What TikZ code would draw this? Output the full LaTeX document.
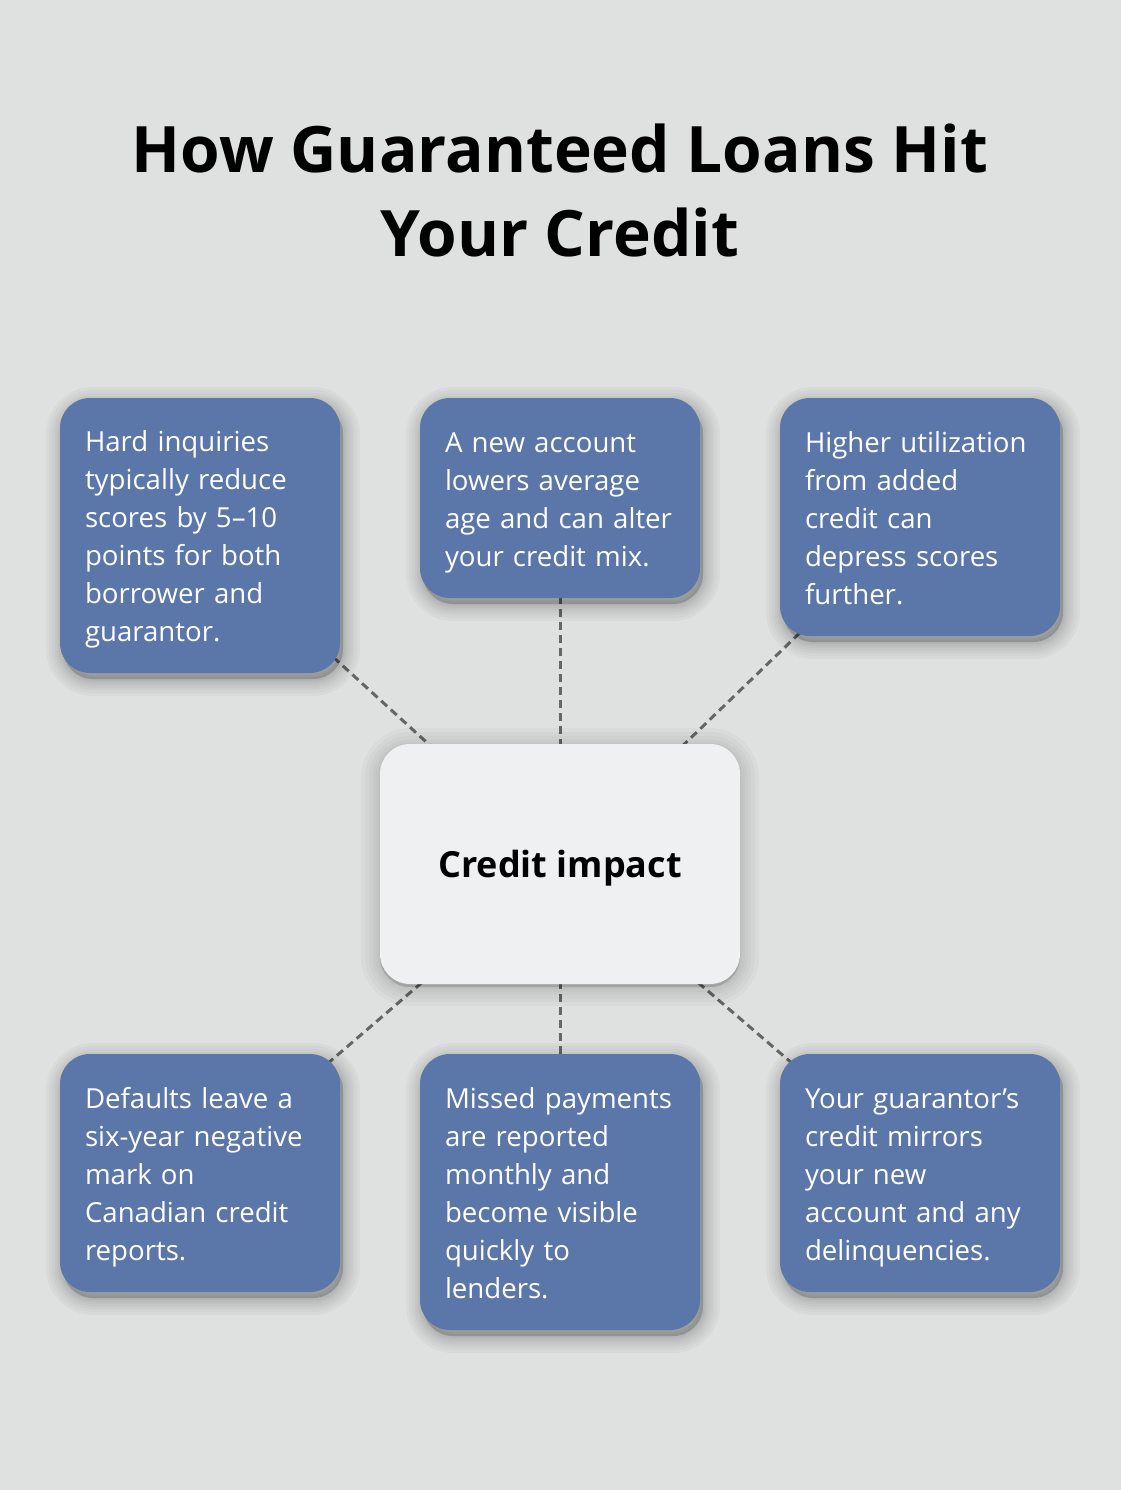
\documentclass[tikz,border=0pt]{standalone}
\usepackage{fontspec}
\setmainfont{Open Sans}
\pgfdeclarelayer{bgzero}
\pgfdeclarelayer{lines}
\pgfsetlayers{bgzero,lines,main}
\definecolor{bgc}{HTML}{DFE1E0}
\definecolor{boxc}{HTML}{5B76A8}
\definecolor{centc}{HTML}{EFF0F2}
\definecolor{linec}{HTML}{666666}
\newcommand\topstrutx{\rule{0pt}{31pt}}
\newcommand\botstrutx{\rule[-9pt]{0pt}{9pt}}
\tikzset{
  shb/.style={preaction={draw=black, fill=black, opacity=0.028, line width=#1,
    transform canvas={xshift=3pt, yshift=-6pt}}},
  shc/.style={preaction={draw=black, fill=black, opacity=0.025, line width=#1,
    transform canvas={yshift=-3pt}}},
  outerbox/.style={shb=34pt, shb=28pt, shb=22pt, shb=17pt, shb=12pt, shb=8pt, shb=4pt,
    fill=boxc, rounded corners=30pt, text=white, align=left,
    inner sep=0pt, font=\fontsize{27.6}{38}\selectfont, minimum width=280pt, text width=230pt},
  centbox/.style={shc=38pt, shc=30pt, shc=22pt, shc=15pt, shc=9pt, shc=4pt,
    fill=centc, rounded corners=30pt, minimum width=360pt, minimum height=240pt,
    inner sep=0pt, text depth=0pt, font=\bfseries\fontsize{36}{42}\selectfont},
  conn/.style={draw=linec, line width=3pt, dash pattern=on 8pt off 5pt},
}
\begin{document}
\begin{tikzpicture}[x=1pt,y=-1pt]
\useasboundingbox (0,0) rectangle (1120,1490);
\begin{pgfonlayer}{bgzero}
\fill[bgc] (-20,-20) rectangle (1140,1510);
\end{pgfonlayer}
\node[font=\bfseries\fontsize{64}{84}\selectfont, align=center] (title) at (560,190)
  {How Guaranteed Loans Hit\\Your Credit};
\node[centbox] (c) at (560,864) {Credit impact};
% top row
\node[outerbox, minimum height=275pt] (tl) at (200,535.5)
  {\topstrutx Hard inquiries\\typically reduce\\scores by 5–10\\points for both\\borrower and\\guarantor.\botstrutx};
\node[outerbox, minimum height=200pt] (tc) at (560,498)
  {\topstrutx A new account\\lowers average\\age and can alter\\your credit mix.\botstrutx};
\node[outerbox, minimum height=238pt] (tr) at (920,517)
  {\topstrutx Higher utilization\\from added\\credit can\\depress scores\\further.\botstrutx};
% bottom row
\node[outerbox, minimum height=238pt] (bl) at (200,1173)
  {\topstrutx Defaults leave a\\six-year negative\\mark on\\Canadian credit\\reports.\botstrutx};
\node[outerbox, minimum height=276pt] (bc) at (560,1192)
  {\topstrutx Missed payments\\are reported\\monthly and\\become visible\\quickly to\\lenders.\botstrutx};
\node[outerbox, minimum height=238pt] (br) at (920,1173)
  {\topstrutx Your guarantor’s\\credit mirrors\\your new\\account and any\\delinquencies.\botstrutx};
\begin{pgfonlayer}{lines}
  \foreach \n in {tl,tc,tr,bl,bc,br} { \draw[conn] (c.center) -- (\n.center); }
\end{pgfonlayer}
\end{tikzpicture}
\end{document}
